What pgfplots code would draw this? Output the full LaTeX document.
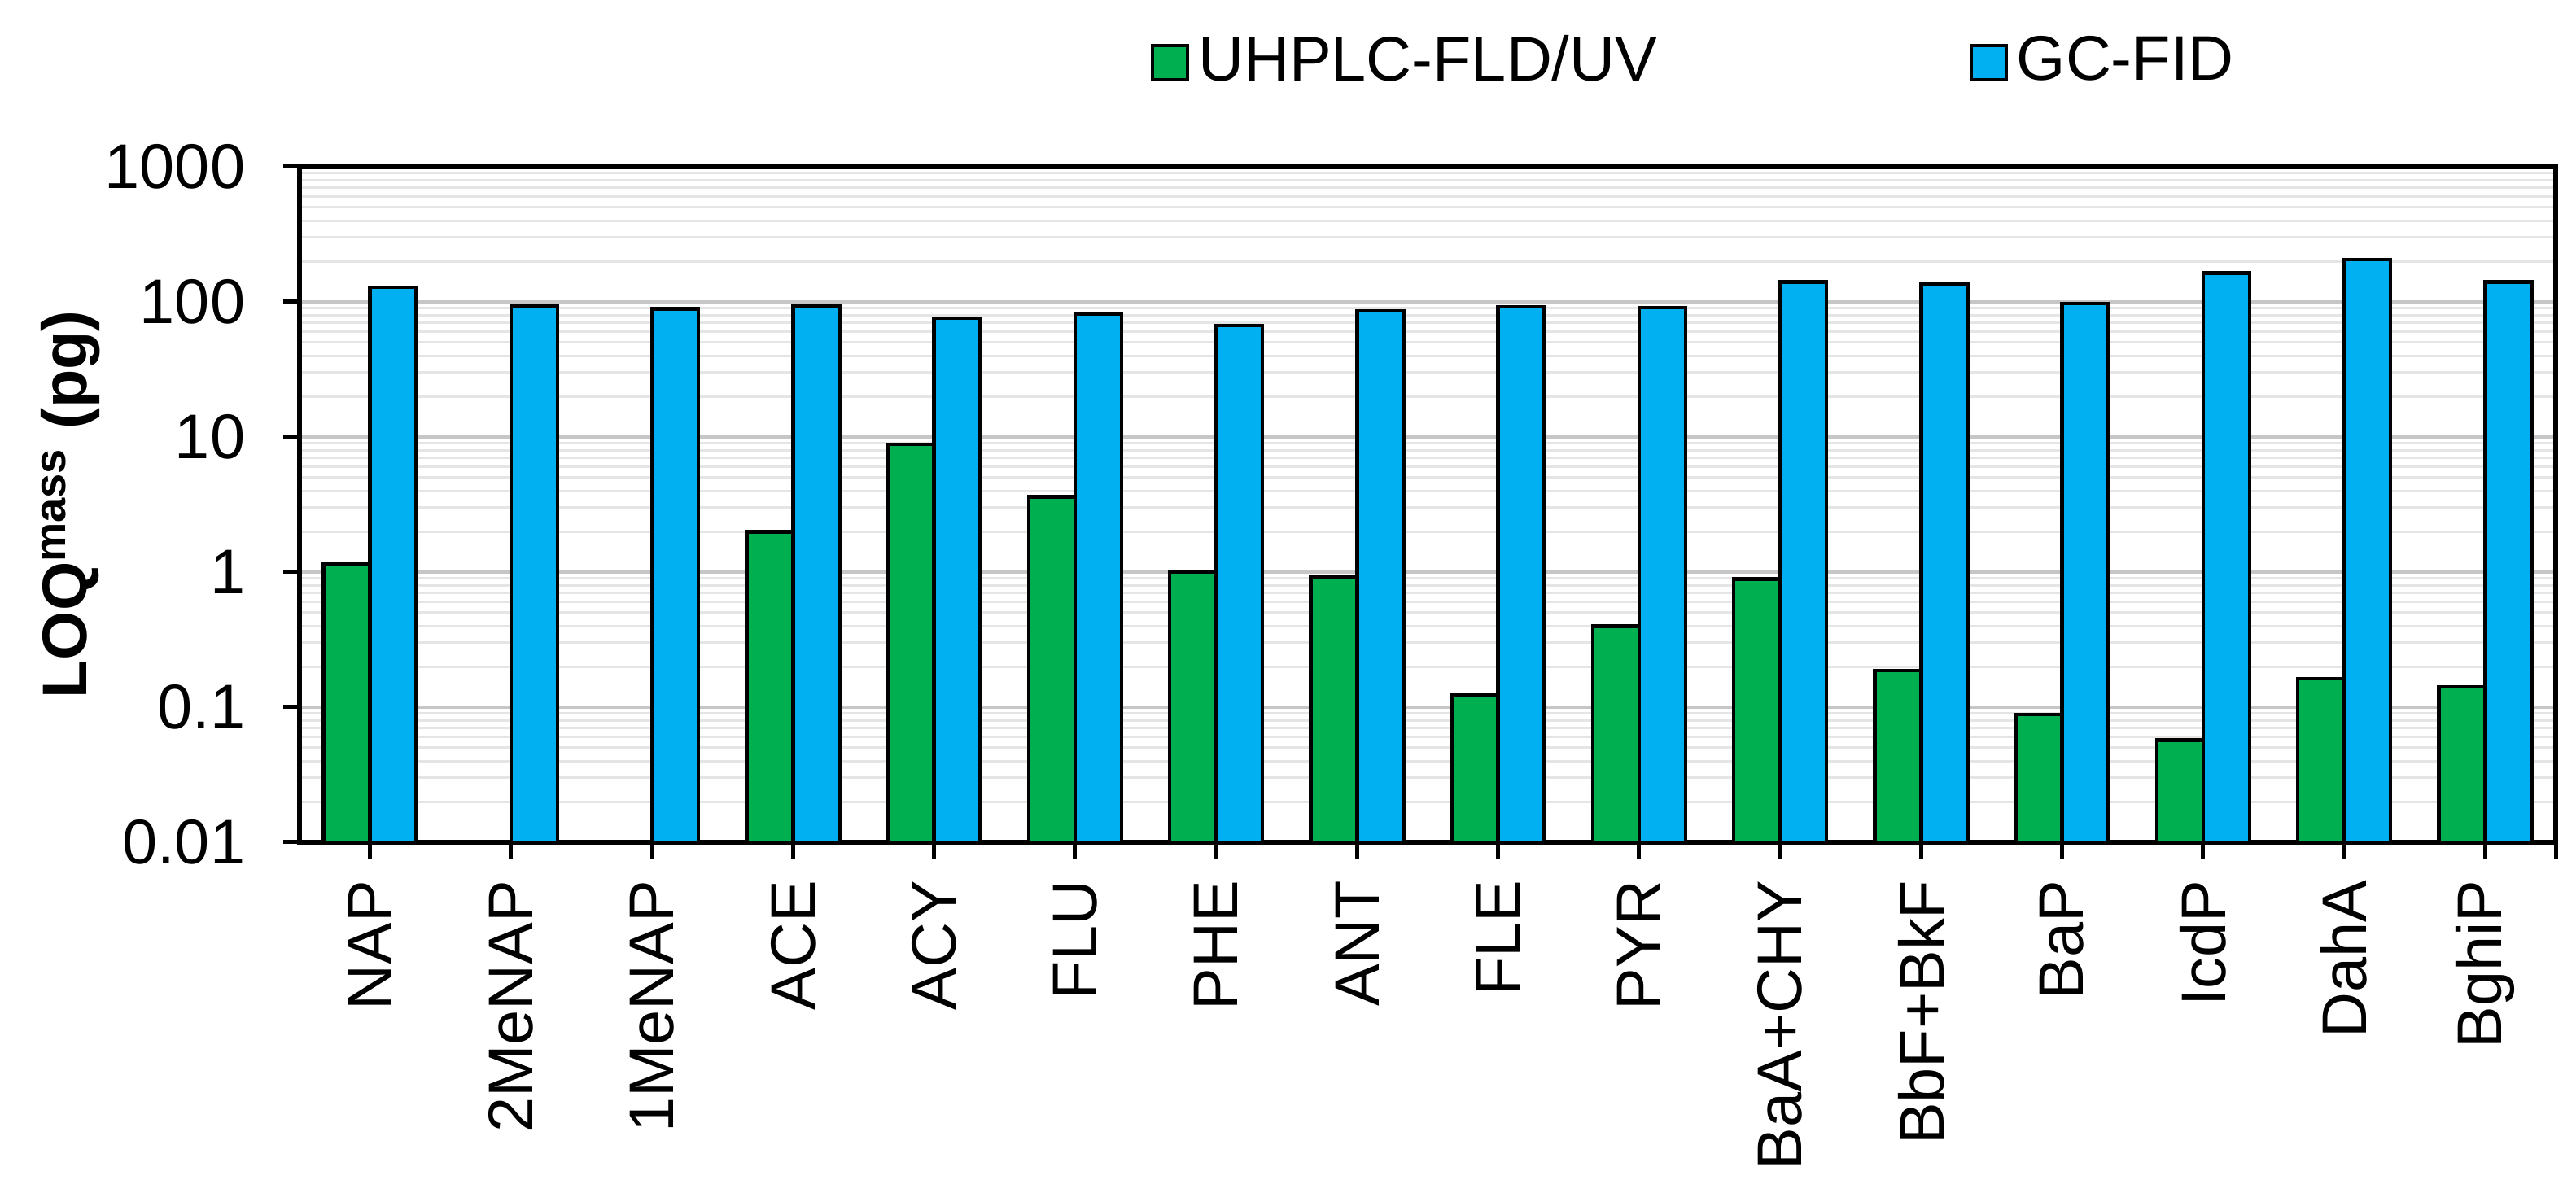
\documentclass[border=0pt]{standalone}
\usepackage{fontspec}
\setmainfont{Liberation Sans}
\usepackage{pgfplots}
\pgfplotsset{compat=1.18}
\definecolor{cgreen}{HTML}{00B050}
\definecolor{cblue}{HTML}{00B0F0}
\begin{document}
\fontsize{15.5}{18.6}\selectfont
\begin{tikzpicture}
\useasboundingbox (-73.6pt,-86.2pt) rectangle (559.4pt,207pt);
\begin{axis}[
  scale only axis, width=554.4pt, height=166pt,
  ymode=log, ymin=0.01, ymax=1000, log origin=infty,
  xmin=-0.5, xmax=15.5,
  ybar=0pt, bar width=11.4pt,
  xtick={0,1,2,3,4,5,6,7,8,9,10,11,12,13,14,15,15.5},
  xticklabels={NAP,2MeNAP,1MeNAP,ACE,ACY,FLU,PHE,ANT,FLE,PYR,BaA+CHY,BbF+BkF,BaP,IcdP,DahA,BghiP,{}},
  xticklabel style={rotate=90, anchor=east},
  ytick={0.01,0.1,1,10,100,1000},
  yticklabels={0.01,0.1,1,10,100,1000},
  minor ytick={0.02,0.03,0.04,0.05,0.06,0.07,0.08,0.09,0.2,0.3,0.4,0.5,0.6,0.7,0.8,0.9,2,3,4,5,6,7,8,9,20,30,40,50,60,70,80,90,200,300,400,500,600,700,800,900},
  ymajorgrids, yminorgrids,
  major grid style={gray!45, line width=0.8pt},
  minor grid style={gray!20, line width=0.6pt},
  minor tick length=0pt,
  tick align=outside, xtick pos=bottom, ytick pos=left,
  axis line style={line width=1.3pt},
  major tick style={line width=1pt, black},
  major tick length=4pt,
  yticklabel style={xshift=-4pt},
  /pgf/number format/assume math mode=true,
  every axis y label/.style={at={(rel axis cs:0,0.50)}, xshift=-52.2pt, rotate=90, anchor=base, font=\bfseries},
  ylabel={LOQ\textsuperscript{mass} (pg)},
  legend columns=2,
  legend image code/.code={\draw[#1, line width=0.8pt] (0pt,-4.2pt) rectangle (8.6pt,4.2pt);},
  legend style={draw=none, fill=none, inner sep=0pt, outer sep=0pt,
    at={(rel axis cs:0.3774,1.154)}, anchor=west,
    nodes={inner sep=2.2pt},
    /tikz/every even column/.append style={column sep=74.5pt}},
]
\addplot[fill=cgreen, draw=black, line width=0.9pt] coordinates {
 (0,1.16) (3,1.98) (4,8.8) (5,3.6) (6,1.0) (7,0.92) (8,0.123) (9,0.398)
 (10,0.89) (11,0.186) (12,0.088) (13,0.057) (14,0.162) (15,0.141)};
\addplot[fill=cblue, draw=black, line width=0.9pt] coordinates {
 (0,128) (1,92.6) (2,89) (3,92.6) (4,76) (5,81) (6,67) (7,86) (8,92) (9,91)
 (10,140) (11,135) (12,97) (13,164) (14,205) (15,140)};
\legend{UHPLC-FLD/UV, GC-FID}
\end{axis}
\end{tikzpicture}
\end{document}
